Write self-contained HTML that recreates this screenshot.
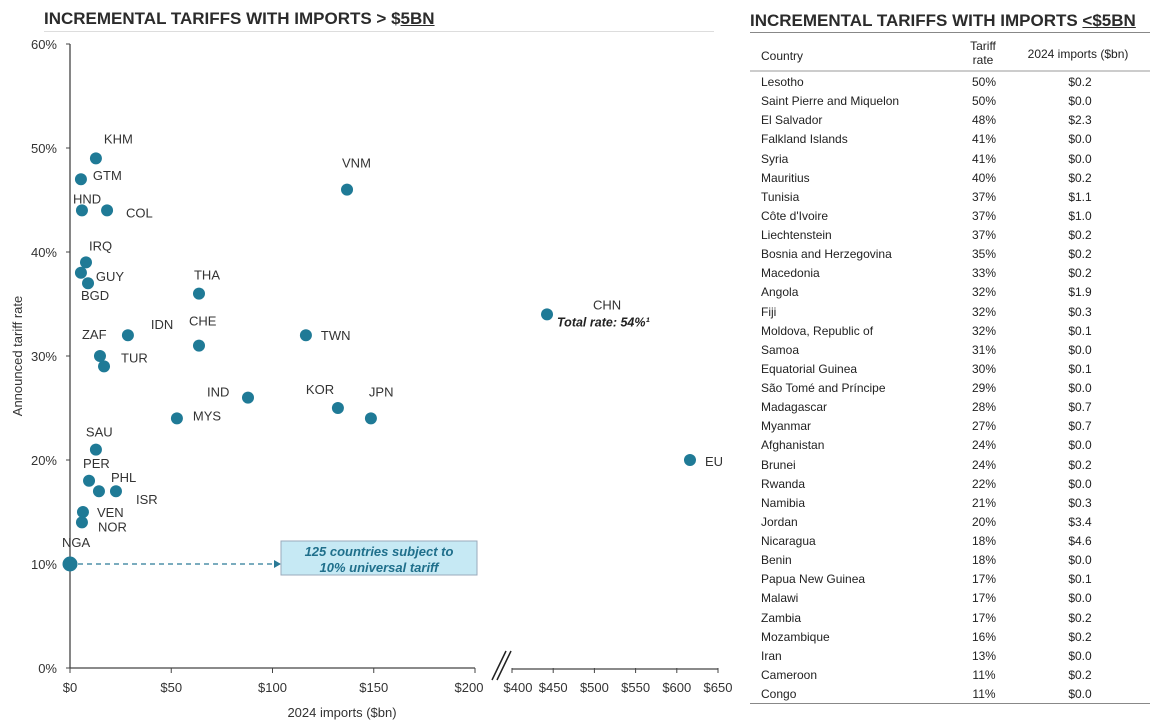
<!DOCTYPE html>
<html><head><meta charset="utf-8">
<style>
body{margin:0;background:#fff;font-family:"Liberation Sans",Arial,sans-serif;color:#333;}
#wrap{position:relative;width:1161px;height:724px;overflow:hidden;}
.ttl{position:absolute;font-weight:bold;font-size:17px;color:#2b2b2b;}
.c{position:absolute;font-size:12px;color:#222;white-space:nowrap;transform:translateY(-50%);}
.m{transform:translate(-50%,-50%);text-align:center;}
</style></head><body>
<div id="wrap">
<div class="ttl" style="left:44px;top:9px;">INCREMENTAL TARIFFS WITH IMPORTS &gt; $<u>5BN</u></div>
<div style="position:absolute;left:44px;top:31px;width:670px;height:1px;background:#ddd"></div>
<div class="ttl" style="left:750px;top:11px;">INCREMENTAL TARIFFS WITH IMPORTS <u>&lt;$5BN</u></div>
<div style="position:absolute;left:750px;top:32px;width:400px;height:1px;background:#888"></div>
<svg id="chart" width="740" height="724" style="position:absolute;left:0;top:0"></svg>
<div id="tbl">
<div class="c" style="left:761px;top:56px">Country</div>
<div class="c m" style="left:983px;top:53px;line-height:14px">Tariff<br>rate</div>
<div class="c m" style="left:1078px;top:54px">2024 imports ($bn)</div>
<div style="position:absolute;left:750px;top:70px;width:400px;height:2px;background:#ccc"></div>
<div style="position:absolute;left:750px;top:703px;width:400px;height:1px;background:#888"></div>
</div>
</div>
<script>
const names=["KHM","GTM","HND","COL","IRQ","GUY","BGD","THA","VNM","ZAF","IDN","CHE","TUR","TWN","IND","KOR","JPN","MYS","SAU","PER","PHL","ISR","VEN","NOR","NGA","CHN","EU"];
const imports=[12.8,5.4,5.9,18.3,7.9,5.4,8.9,63.7,136.8,14.8,28.6,63.7,16.8,116.5,87.9,132.3,148.6,52.8,12.8,9.4,14.3,22.7,6.4,5.9,0,442.5,616];
const rates=[49,47,44,44,39,38,37,36,46,30,32,31,29,32,26,25,24,24,21,18,17,17,15,14,10,34,20];
const labelDx=[8,12,-9,19,3,15,-7,-5,-5,-18,23,-10,17,15,-41,-32,-2,16,-10,-6,12,20,14,16,-8,46,15];
const labelDy=[-15,1,-7,7,-12,8,17,-14,-22,-17,-6,-20,-4,5,-1,-14,-22,2,-13,-13,-9,13,5,9,-17,-5,6];
const yTicks=[0,10,20,30,40,50,60];
const xTicks1=[0,50,100,150,200];
const xTicks2=[400,450,500,550,600,650];
const tCountries=["Lesotho","Saint Pierre and Miquelon","El Salvador","Falkland Islands","Syria","Mauritius","Tunisia","Côte d'Ivoire","Liechtenstein","Bosnia and Herzegovina","Macedonia","Angola","Fiji","Moldova, Republic of","Samoa","Equatorial Guinea","São Tomé and Príncipe","Madagascar","Myanmar","Afghanistan","Brunei","Rwanda","Namibia","Jordan","Nicaragua","Benin","Papua New Guinea","Malawi","Zambia","Mozambique","Iran","Cameroon","Congo"];
const tRates=["50%","50%","48%","41%","41%","40%","37%","37%","37%","35%","33%","32%","32%","32%","31%","30%","29%","28%","27%","24%","24%","22%","21%","20%","18%","18%","17%","17%","17%","16%","13%","11%","11%"];
const tImports=["$0.2","$0.0","$2.3","$0.0","$0.0","$0.2","$1.1","$1.0","$0.2","$0.2","$0.2","$1.9","$0.3","$0.1","$0.0","$0.1","$0.0","$0.7","$0.7","$0.0","$0.2","$0.0","$0.3","$3.4","$4.6","$0.0","$0.1","$0.0","$0.2","$0.2","$0.0","$0.2","$0.0"];

const NS="http://www.w3.org/2000/svg",svg=document.getElementById('chart');
function X(v){return v<=200?70+v*2.025:512+(v-400)*0.824;}
function Y(v){return 668-v*10.4;}
function mk(t,a,p){const e=document.createElementNS(NS,t);for(const k in a)e.setAttribute(k,a[k]);(p||svg).appendChild(e);return e;}
const axC="#444";
let e=mk('line',{x1:70,y1:44,x2:70,y2:668,stroke:axC,'stroke-width':1.3});


yTicks.forEach(t=>{
 mk('line',{x1:66,y1:Y(t),x2:70,y2:Y(t),stroke:axC});
 const tx=mk('text',{x:57,y:Y(t)+5,'text-anchor':'end','font-size':13,fill:'#333'});tx.textContent=t+'%';
 
 
});
e=mk('line',{x1:70,y1:668,x2:X(200),y2:668,stroke:axC,'stroke-width':1.3});


e=mk('line',{x1:X(400),y1:669,x2:X(650),y2:669,stroke:axC,'stroke-width':1.3});


xTicks1.concat(xTicks2).forEach(t=>{
 mk('line',{x1:X(t),y1:668,x2:X(t),y2:673,stroke:axC});
 const tx=mk('text',{x:X(t)+(t==200?-6:t==400?6:0),y:692,'text-anchor':'middle','font-size':13,fill:'#333'});tx.textContent='$'+t;
 
 
});
mk('line',{x1:492,y1:680,x2:506,y2:651,stroke:'#222','stroke-width':1.5});
mk('line',{x1:497,y1:680,x2:511,y2:651,stroke:'#222','stroke-width':1.5});
e=mk('text',{x:342,y:717,'text-anchor':'middle','font-size':13,fill:'#333'});e.textContent='2024 imports ($bn)';


e=mk('text',{x:22,y:356,'text-anchor':'middle','font-size':13,fill:'#333',transform:'rotate(-90 22 356)'});e.textContent='Announced tariff rate';


e=mk('line',{x1:78,y1:Y(10),x2:274,y2:Y(10),stroke:'#2a7a96','stroke-width':1.3,'stroke-dasharray':'5,4'});


mk('polygon',{points:`274,${Y(10)-4} 281,${Y(10)} 274,${Y(10)+4}`,fill:'#2a7a96'});
e=mk('rect',{x:281,y:541,width:196,height:34,fill:'#c6e9f4',stroke:'#9ab'});


[['125 countries subject to',556],['10% universal tariff',572]].forEach(a=>{const t=mk('text',{x:379,y:a[1],'text-anchor':'middle','font-size':13,'font-weight':'bold','font-style':'italic',fill:'#1f6f8b'});t.textContent=a[0];});
names.forEach((n,i)=>{
 const cx=X(imports[i]),cy=Y(rates[i]);
 const c=mk('circle',{cx:cx,cy:cy,r:n=='NGA'?7.5:6,fill:'#1f7a96'});
 
 
 const t=mk('text',{x:cx+labelDx[i],y:cy+labelDy[i],'font-size':13,fill:'#333'});t.textContent=n;
 
 
 if(n=='CHN'){const t2=mk('text',{x:cx+10,y:cy+12,'font-size':12.5,'font-weight':'bold','font-style':'italic',fill:'#222'});t2.textContent='Total rate: 54%¹';
 
 }
});
const tbl=document.getElementById('tbl');
tCountries.forEach((c,i)=>{
 const y=82+i*19.125;
 [[c,761,''],[tRates[i],984,' m'],[tImports[i],1080,' m']].forEach((a,j)=>{
  const d=document.createElement('div');
  d.className='c'+a[2];
  d.style.left=a[1]+'px';d.style.top=y+'px';
  d.textContent=a[0];
  
  
  tbl.appendChild(d);
 });
});
</script>
</body></html>
